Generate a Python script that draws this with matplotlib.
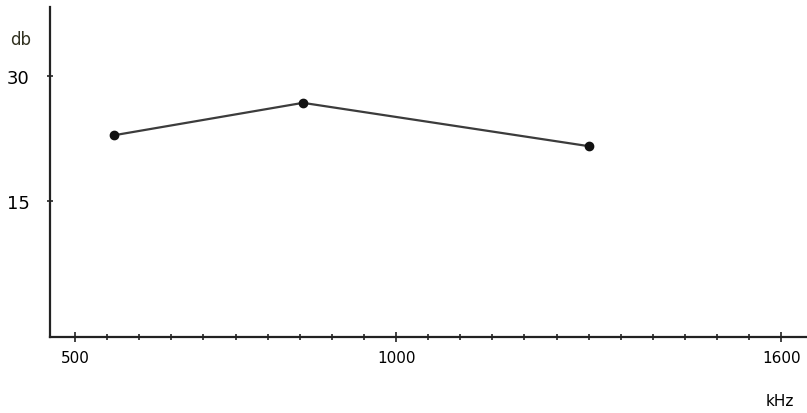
import numpy as np
import matplotlib.pyplot as plt
from matplotlib.ticker import MultipleLocator

# frequency response
freq_khz = [560, 855, 1300]
level_db = [22.9, 26.8, 21.6]

x_ticks = [500, 1000, 1600]
y_ticks = [15, 30]

fig = plt.figure(figsize=(8.07, 4.14), dpi=100)
ax = fig.add_axes([50/807, 76/414, 757/807, 330/414])

ax.plot(freq_khz, level_db, color='#3c3c3c', lw=1.6,
        marker='o', ms=6, mfc='#111111', mec='#111111')

ax.set_xlim(461, 1640)
ax.set_ylim(-1.3, 38.3)

for s in ['top', 'right']:
    ax.spines[s].set_visible(False)
for s in ['left', 'bottom']:
    ax.spines[s].set_linewidth(1.6)
    ax.spines[s].set_color('#222222')

ax.set_xticks(x_ticks)
ax.set_xticklabels([str(v) for v in x_ticks])
ax.xaxis.set_minor_locator(MultipleLocator(50))
ax.set_yticks(y_ticks)
ax.set_yticklabels([str(v) for v in y_ticks])

ax.tick_params(axis='x', which='both', direction='inout', length=7, width=1.2,
               color='#222222', labelsize=11, pad=6)
ax.tick_params(axis='x', which='minor', length=5)
ax.tick_params(axis='y', direction='inout', length=5, width=1.2,
               color='#222222', labelsize=13, pad=12)

fig.text(10/807, 1 - 40/414, 'db', fontsize=12, va='center', ha='left', color='#333322')
fig.text(780/807, 1 - 402/414, 'kHz', fontsize=11, va='center', ha='center')

fig.savefig('out.png', dpi=100)
